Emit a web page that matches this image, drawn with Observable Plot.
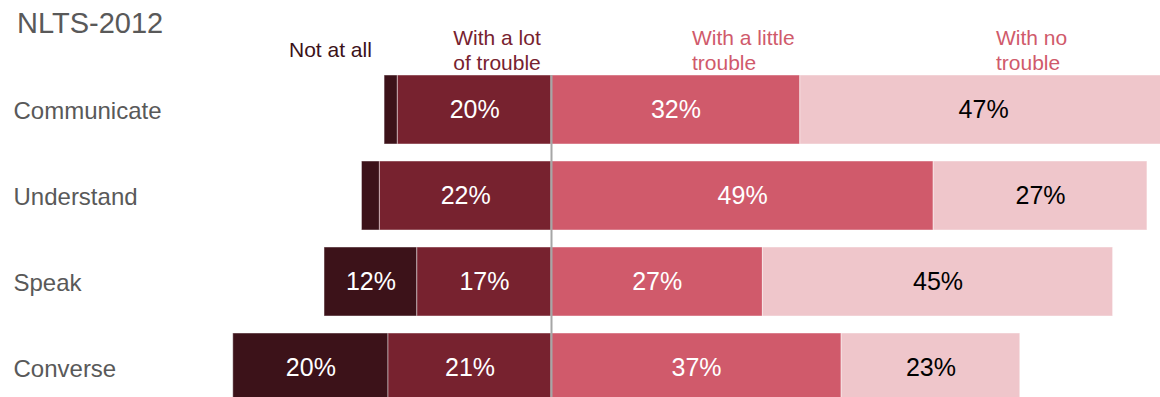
<!DOCTYPE html>
<html>
<head>
<meta charset="utf-8">
<script src="https://cdn.jsdelivr.net/npm/d3@7"></script>
<script src="https://cdn.jsdelivr.net/npm/@observablehq/plot@0.6"></script>
<style>
  html, body { margin: 0; padding: 0; background: #fff; overflow: hidden; }
  #wrap { position: relative; width: 1160px; height: 397px; overflow: hidden; font-family: "Liberation Sans", Arial, sans-serif; }
  #chart { position: absolute; left: 0; top: 0; }
  .hdr { position: absolute; font-size: 21px; line-height: 25px; white-space: nowrap; }
  #title { position: absolute; left: 17px; top: 9px; font-size: 29px; line-height: 29px; color: #595959; }
</style>
</head>
<body>
<div id="wrap">
  <div id="chart"></div>
  <div id="title">NLTS-2012</div>
  <div class="hdr" id="h0" style="left:289px; top:37px; color:#3c1219;"></div>
  <div class="hdr" id="h1" style="left:437px; top:25px; width:120px; text-align:center; color:#77222f;"></div>
  <div class="hdr" id="h2" style="left:692px; top:25px; color:#d05a6b;"></div>
  <div class="hdr" id="h3" style="left:996px; top:25px; color:#d05a6b;"></div>
</div>
<script>
// ---- data ----
const categories = ["Communicate", "Understand", "Speak", "Converse"];
const responses = ["Not at all", "With a lot\nof trouble", "With a little\ntrouble", "With no\ntrouble"];
const notAtAll  = [1.7, 2.3, 11.9, 19.9];
const aLot      = [19.7, 22.0, 17.2, 20.9];
const aLittle   = [31.9, 49.0, 27.1, 37.2];
const noTrouble = [47.0, 27.4, 44.9, 22.9];
const colors = ["#3c1219", "#77222f", "#d05a6b", "#efc6cb"];
const labelColors = ["#ffffff", "#ffffff", "#ffffff", "#000000"];

// headers
responses.forEach((r, i) => {
  document.getElementById("h" + i).innerHTML = r.split("\n").join("<br>");
});

// build diverging segments
const rows = [];
categories.forEach((c, i) => {
  const segs = [
    {k: 0, x1: -(aLot[i] + notAtAll[i]), x2: -aLot[i], v: notAtAll[i]},
    {k: 1, x1: -aLot[i], x2: 0, v: aLot[i]},
    {k: 2, x1: 0, x2: aLittle[i], v: aLittle[i]},
    {k: 3, x1: aLittle[i], x2: aLittle[i] + noTrouble[i], v: noTrouble[i]}
  ];
  segs.forEach(s => rows.push({cat: c, resp: responses[s.k], k: s.k, x1: s.x1, x2: s.x2, v: s.v}));
});
const labelRows = rows.filter(d => d.v >= 5);

const W = 1160, H = 397;
const pxPerPct = 7.8, center = 551;

const plot = Plot.plot({
  width: W,
  height: H,
  marginLeft: 0,
  marginRight: 0,
  marginTop: 75,
  marginBottom: 0,
  style: {fontFamily: "'Liberation Sans', Arial, sans-serif", background: "transparent"},
  x: {domain: [-center / pxPerPct, (W - center) / pxPerPct], axis: null},
  y: {domain: categories, range: [57.8, 419], padding: 0.2, axis: null},
  color: {domain: responses, range: colors},
  marks: [
    Plot.barX(rows, {y: "cat", x1: "x1", x2: "x2", fill: "resp", stroke: "#ffffff", strokeOpacity: 0.45, strokeWidth: 1, clip: true}),
    Plot.ruleX([0], {stroke: "#a6a6a6", strokeWidth: 2}),
    Plot.text(labelRows, {
      y: "cat",
      x: d => (d.x1 + d.x2) / 2,
      text: d => Math.round(d.v) + "%",
      fill: d => labelColors[d.k],
      fontSize: 25,
      clip: true
    }),
    Plot.text(categories, {
      y: d => d,
      text: d => d,
      frameAnchor: "left",
      textAnchor: "start",
      dx: 13,
      dy: 1,
      fill: "#595959",
      fontSize: 24
    })
  ]
});
document.getElementById("chart").appendChild(plot);
</script>
</body>
</html>
